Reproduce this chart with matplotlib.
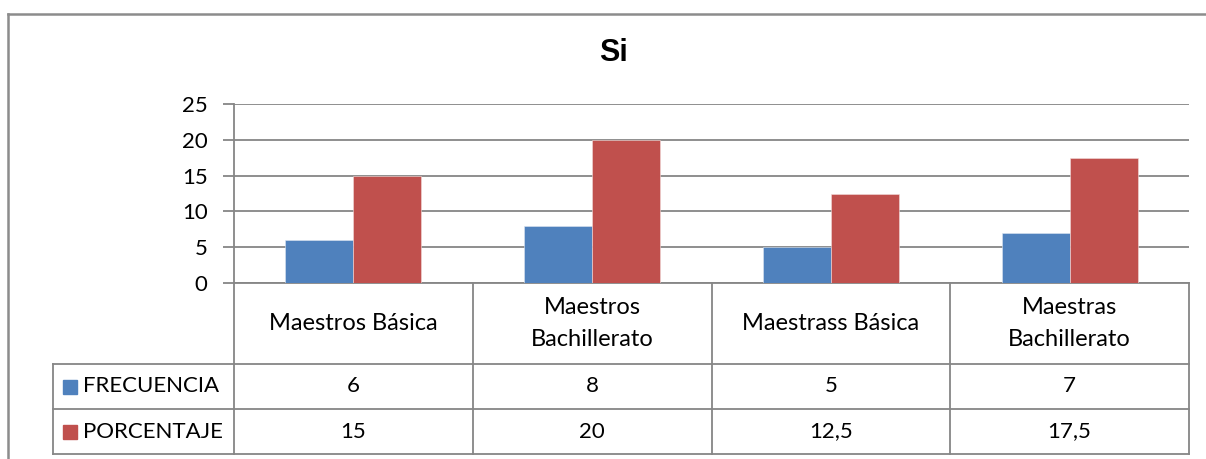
import matplotlib
matplotlib.use("Agg")
import matplotlib.pyplot as plt
from matplotlib.lines import Line2D
from matplotlib.patches import Rectangle

categories = ["Maestros Básica", "Maestros\nBachillerato", "Maestrass Básica", "Maestras\nBachillerato"]
frecuencia = [6, 8, 5, 7]
porcentaje = [15, 20, 12.5, 17.5]
frec_labels = ["6", "8", "5", "7"]
porc_labels = ["15", "20", "12,5", "17,5"]
series_names = ["FRECUENCIA", "PORCENTAJE"]
yticks = [0, 5, 10, 15, 20, 25]
title = "Si"

BLUE = "#4F81BD"
RED = "#C0504D"
GRID = "#868686"
FONT = ["Lato", "DejaVu Sans"]
FS = 16
W, H = 1206, 459

fig = plt.figure(figsize=(W / 100, H / 100), dpi=100)

def fx(px):
    return px / W

def fy(py):
    return 1 - py / H

# outer chart frame
fig.add_artist(Line2D([fx(8), fx(1206)], [fy(14), fy(14)], color="#8c8c8c", lw=1.8, transform=fig.transFigure))
fig.add_artist(Line2D([fx(8), fx(8)], [fy(14), fy(459)], color="#8c8c8c", lw=1.8, transform=fig.transFigure))

x0, x1, ytop, ybot = 234, 1189, 104, 283
ax = fig.add_axes([fx(x0), fy(ybot), fx(x1 - x0), (ybot - ytop) / H])
ax.set_xlim(-0.5, len(categories) - 0.5)
ax.set_ylim(0, 25)

bw = 0.285
xs = list(range(len(categories)))
ax.bar([x - bw / 2 for x in xs], frecuencia, width=bw, color=BLUE, edgecolor="#dce6f2", linewidth=0.4, zorder=3)
ax.bar([x + bw / 2 for x in xs], porcentaje, width=bw, color=RED, edgecolor="#f2dcdb", linewidth=0.4, zorder=3)

ax.set_yticks(yticks)
ax.set_yticklabels([str(t) for t in yticks], fontfamily=FONT, fontsize=FS)
ax.tick_params(axis="y", length=8, width=1.3, color=GRID, pad=11)
ax.tick_params(axis="x", length=0, labelbottom=False)
ax.yaxis.grid(True, color=GRID, lw=1.3, zorder=0)
ax.set_axisbelow(True)
for s in ["top", "right"]:
    ax.spines[s].set_visible(False)
ax.spines["left"].set_color(GRID)
ax.spines["left"].set_linewidth(1.3)
ax.spines["bottom"].set_color(GRID)
ax.spines["bottom"].set_linewidth(1.3)

fig.text(fx(613), fy(53), title, ha="center", va="center", fontsize=22, fontweight="bold",
         family=["Liberation Sans", "DejaVu Sans"])

# data table below the axis
tr = ax.get_xaxis_transform()
ph = ybot - ytop

def ay(py):
    return (ybot - py) / ph

rows = [283, 364, 409, 454]
left_px = 53

def px_to_data(px):
    return -0.5 + (px - x0) / (x1 - x0) * len(categories)

lc = dict(color=GRID, lw=1.3, clip_on=False, transform=tr)
xl = px_to_data(left_px)
xr = len(categories) - 0.5
for r in rows[1:]:
    ax.add_line(Line2D([xl, xr], [ay(r), ay(r)], **lc))
ax.add_line(Line2D([-0.5, -0.5], [ay(rows[0]), ay(rows[-1])], **lc))
for b in range(len(categories)):
    xb = b + 0.5
    ax.add_line(Line2D([xb, xb], [ay(rows[0]), ay(rows[-1])], **lc))
ax.add_line(Line2D([xl, xl], [ay(rows[1]), ay(rows[-1])], **lc))

for i, c in enumerate(categories):
    ax.text(i, ay((rows[0] + rows[1]) / 2), c, ha="center", va="center", transform=tr,
            fontfamily=FONT, fontsize=FS + 1, linespacing=1.6, clip_on=False)
    ax.text(i, ay((rows[1] + rows[2]) / 2), frec_labels[i], ha="center", va="center", transform=tr,
            fontfamily=FONT, fontsize=FS, clip_on=False)
    ax.text(i, ay((rows[2] + rows[3]) / 2), porc_labels[i], ha="center", va="center", transform=tr,
            fontfamily=FONT, fontsize=FS, clip_on=False)

for k, (name, col) in enumerate(zip(series_names, [BLUE, RED])):
    yc = (rows[k + 1] + rows[k + 2]) / 2
    fig.add_artist(Rectangle((fx(63), fy(yc + 7)), fx(14), 14 / H, color=col, transform=fig.transFigure))
    fig.text(fx(83), fy(yc), name, ha="left", va="center", fontfamily=FONT, fontsize=FS)

fig.savefig("out.png", dpi=100)
